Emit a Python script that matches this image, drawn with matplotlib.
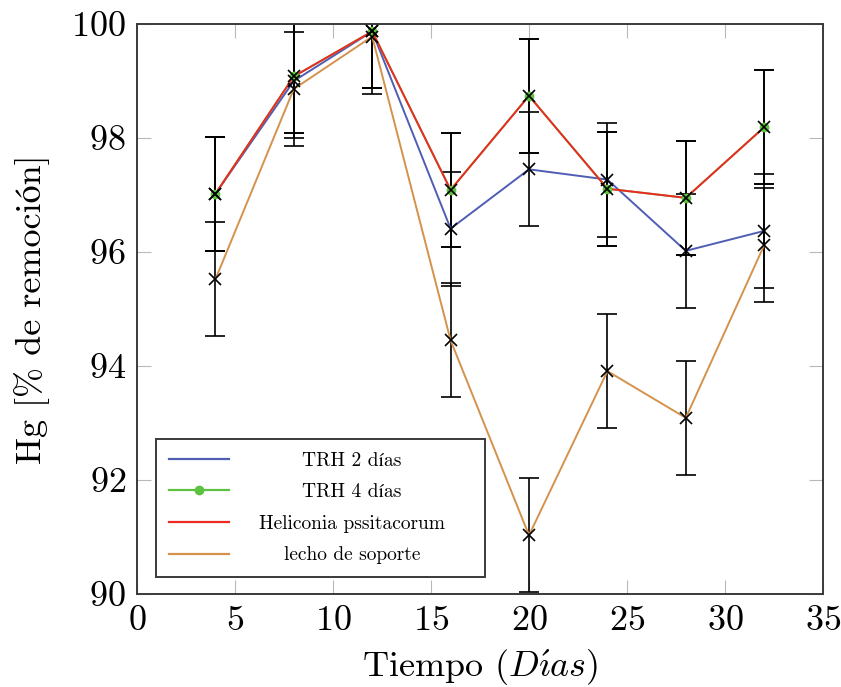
import matplotlib
matplotlib.use("Agg")
import matplotlib.pyplot as plt
from matplotlib.lines import Line2D

# --- data ---
dias = [4, 8, 12, 16, 20, 24, 28, 32]
trh_2 = [97.02, 99.00, 99.87, 96.41, 97.45, 97.27, 96.02, 96.37]
trh_4 = [97.02, 99.08, 99.87, 97.09, 98.74, 97.11, 96.95, 98.19]
heliconia = [97.02, 99.08, 99.87, 97.09, 98.74, 97.11, 96.95, 98.19]
lecho = [95.52, 98.86, 99.78, 94.45, 91.03, 93.91, 93.09, 96.12]
error = [1, 1, 1, 1, 1, 1, 1, 1]

labels = ["TRH 2 días", "TRH 4 días", "Heliconia pssitacorum", "lecho de soporte"]
x_ticks = [0, 5, 10, 15, 20, 25, 30, 35]
y_ticks = [90, 92, 94, 96, 98, 100]

plt.rcParams["font.family"] = ["cmr10", "STIXGeneral", "DejaVu Serif"]
plt.rcParams["mathtext.fontset"] = "cm"
plt.rcParams["axes.formatter.use_mathtext"] = True

BLUE = "#4f5db5"
GREEN = "#5fc140"
RED = "#ec2a24"
ORANGE = "#d4924c"

fig = plt.figure(figsize=(8.41, 6.87), dpi=100)
ax = fig.add_axes([137 / 841, 1 - 594 / 687, 686 / 841, 570 / 687])

series = [
    (lecho, ORANGE),
    (trh_2, BLUE),
    (trh_4, GREEN),
    (heliconia, RED),
]
for vals, col in series:
    ax.errorbar(dias, vals, yerr=error, fmt="none", ecolor="black",
                elinewidth=1.2, capsize=7, capthick=1.2, zorder=2)
for i, (vals, col) in enumerate(series):
    ax.plot(dias, vals, color=col, linewidth=1.4, zorder=3 + i * 0.1)

# markers on top of lines
ax.plot(dias, trh_4, linestyle="none", marker="o", markersize=6,
        color=GREEN, zorder=5)
for vals in (lecho, trh_2, trh_4):
    ax.plot(dias, vals, linestyle="none", marker="x", markersize=8,
            markeredgewidth=1.2, color="black", zorder=6)

ax.set_xlim(0, 35)
ax.set_ylim(90, 100)
ax.set_xticks(x_ticks)
ax.set_yticks(y_ticks)
ax.tick_params(direction="in", length=10, width=0.8, color="#b8b8b8",
               top=True, right=True, labelsize=26, pad=8)
for sp in ax.spines.values():
    sp.set_color("#3a3a3a")
    sp.set_linewidth(1.4)

ax.set_xlabel(r"Tiempo ($D\acute{\imath}as$)", fontsize=26, labelpad=8)
ax.set_ylabel("Hg [% de remoción]", fontsize=26, labelpad=15)

handles = [
    Line2D([], [], color=BLUE, linewidth=1.6),
    Line2D([], [], color=GREEN, linewidth=1.6, marker="o", markersize=6),
    Line2D([], [], color=RED, linewidth=1.6),
    Line2D([], [], color=ORANGE, linewidth=1.6),
]
leg = ax.legend(handles, labels, loc="lower left",
                bbox_to_anchor=(19 / 686, 17 / 570, 329 / 686, 0.2),
                mode="expand", borderaxespad=0, fancybox=False, fontsize=14,
                handlelength=3.1, handletextpad=0.7, labelspacing=0.7,
                borderpad=0.65, edgecolor="#3a3a3a", framealpha=1)
leg.get_frame().set_linewidth(1.4)

# centre the legend entries like the pgfplots legend
fig.canvas.draw()
renderer = fig.canvas.get_renderer()
centre_px = ax.transAxes.transform(((352 - 137) / 686, 0))[0]
for t in leg.get_texts():
    bb = t.get_window_extent(renderer)
    x0, y0 = t.get_position()
    t.set_x(x0 + centre_px - (bb.x0 + bb.x1) / 2)

fig.savefig("out.png", dpi=100)
